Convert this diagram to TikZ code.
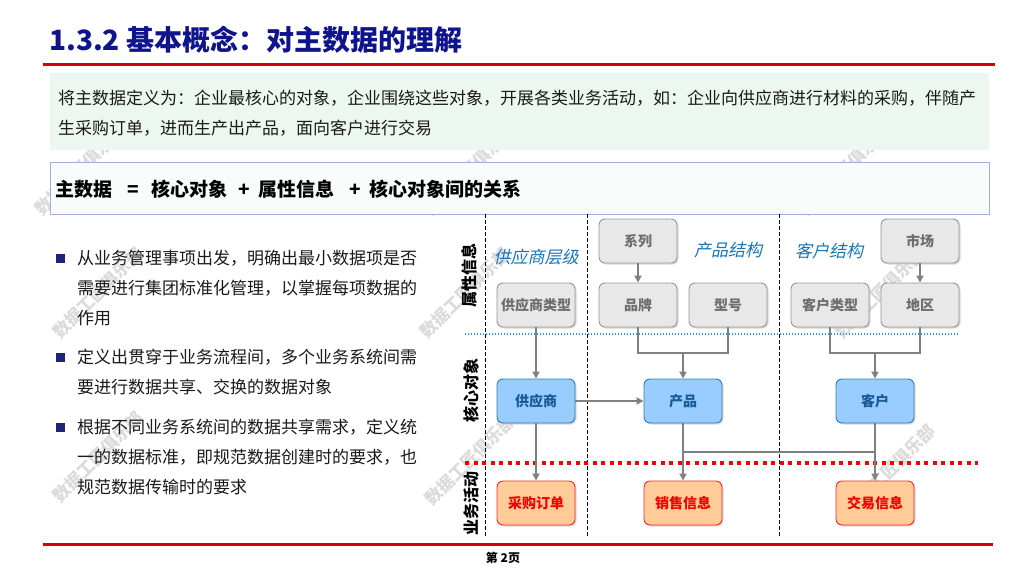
\documentclass[tikz,border=0pt]{standalone}
\usepackage{fontspec}
\setmainfont{Noto Sans CJK SC}
\newfontfamily\slantcjk[FakeSlant=0.22]{Noto Sans CJK SC}
\usetikzlibrary{arrows.meta,shadows}
\definecolor{titleblue}{RGB}{16,20,140}
\definecolor{redline}{RGB}{215,0,0}
\definecolor{greenbg}{RGB}{237,247,241}
\definecolor{formbg}{RGB}{248,252,250}
\definecolor{lavender}{RGB}{168,172,216}
\definecolor{bulletblue}{RGB}{30,36,120}
\definecolor{txt}{RGB}{26,26,26}
\definecolor{attrfill}{RGB}{232,232,232}
\definecolor{attrdraw}{RGB}{150,150,150}
\definecolor{attrtext}{RGB}{110,110,110}
\definecolor{corefill}{RGB}{153,204,255}
\definecolor{coredraw}{RGB}{46,125,181}
\definecolor{coretext}{RGB}{22,90,150}
\definecolor{actfill}{RGB}{255,204,153}
\definecolor{actdraw}{RGB}{255,40,40}
\definecolor{acttext}{RGB}{240,0,0}
\definecolor{connc}{RGB}{128,128,128}
\definecolor{slabel}{RGB}{26,117,181}
\definecolor{dotblue}{RGB}{51,153,204}
\definecolor{dashred}{RGB}{240,0,0}
\tikzset{
  boxbase/.style={rounded corners=6pt, minimum width=78pt, minimum height=44pt,
    line width=0.9pt, inner sep=0pt, font=\fontsize{14}{16}\selectfont\bfseries,
    drop shadow={shadow xshift=1.5pt, shadow yshift=-1.5pt, fill=black!25, opacity=0.6}},
  attrbox/.style={boxbase, fill=attrfill, draw=attrdraw, text=attrtext},
  corebox/.style={boxbase, fill=corefill, draw=coredraw, text=coretext},
  actbox/.style={boxbase, fill=actfill, draw=actdraw, text=acttext},
  conn/.style={draw=connc, line width=2pt, -{Triangle[length=7pt,width=7pt]}},
  joinline/.style={draw=connc, line width=2pt},
  body/.style={anchor=west, text=txt, inner sep=0pt, font=\fontsize{17}{20}\selectfont},
  sidelabel/.style={rotate=90, text=black, inner sep=0pt, font=\fontsize{16}{18}\selectfont\bfseries},
  structlabel/.style={text=slabel, inner sep=0pt, font=\fontsize{17}{20}\selectfont\slantcjk},
  lanedash/.style={draw=black, line width=0.9pt, dash pattern=on 3.5pt off 2.5pt},
  watermark/.style={rotate=45, text=black!14, inner sep=0pt, font=\fontsize{17}{20}\selectfont\bfseries},
  bulletsq/.style={fill=bulletblue, minimum size=9pt, inner sep=0pt}
}
\begin{document}
\begin{tikzpicture}[x=1pt,y=-1pt]
\useasboundingbox (0,0) rectangle (1024,576);
\fill[white] (0,0) rectangle (1024,576);

% watermarks
\node[watermark] (wm1) at (80,170) {数据工匠俱乐部};
\node[watermark] (wm2) at (470,170) {数据工匠俱乐部};
\node[watermark] (wm3) at (845,170) {数据工匠俱乐部};
\node[watermark] (wm4) at (98,293) {数据工匠俱乐部};
\node[watermark] (wm5) at (465,293) {数据工匠俱乐部};
\node[watermark] (wm6) at (880,293) {数据工匠俱乐部};
\node[watermark] (wm7) at (98,457) {数据工匠俱乐部};
\node[watermark] (wm8) at (470,460) {数据工匠俱乐部};
\node[watermark] (wm9) at (890,470) {数据工匠俱乐部};

% title
\node[anchor=west, inner sep=0pt, text=titleblue, font=\fontsize{28}{31}\selectfont\bfseries] (title) at (49,40) {1.3.2 基本概念：对主数据的理解};
\draw[redline, line width=3pt] (43,64) -- (995,64);

% definition box
\fill[greenbg] (50,73) rectangle (989,150);
\node[body] (def1) at (58,98) {将主数据定义为：企业最核心的对象，企业围绕这些对象，开展各类业务活动，如：企业向供应商进行材料的采购，伴随产};
\node[body] (def2) at (58,128) {生采购订单，进而生产出产品，面向客户进行交易};

% formula box
\draw[draw=lavender, fill=formbg, line width=1pt] (50,162) rectangle (989,214);
\node[anchor=west, inner sep=0pt, text=black, font=\fontsize{19}{22}\selectfont\bfseries] (formula) at (55,189)
  {主数据\hspace{15pt}=\hspace{13pt}核心对象\hspace{11pt}+\hspace{8pt}属性信息\hspace{15pt}+\hspace{9pt}核心对象间的关系};

% bullets
\node[bulletsq] (b1) at (60,258) {};
\node[body] (b1l1) at (77,258) {从业务管理事项出发，明确出最小数据项是否};
\node[body] (b1l2) at (77,288) {需要进行集团标准化管理，以掌握每项数据的};
\node[body] (b1l3) at (77,318) {作用};
\node[bulletsq] (b2) at (60,357) {};
\node[body] (b2l1) at (77,357) {定义出贯穿于业务流程间，多个业务系统间需};
\node[body] (b2l2) at (77,387) {要进行数据共享、交换的数据对象};
\node[bulletsq] (b3) at (60,427) {};
\node[body] (b3l1) at (77,427) {根据不同业务系统间的数据共享需求，定义统};
\node[body] (b3l2) at (77,457) {一的数据标准，即规范数据创建时的要求，也};
\node[body] (b3l3) at (77,487) {规范数据传输时的要求};

% lane lines
\draw[lanedash] (485,214) -- (485,536);
\draw[lanedash] (587,214) -- (587,536);
\draw[lanedash] (779,214) -- (779,536);
\draw[draw=dotblue, line width=1.1pt, dash pattern=on 1.2pt off 1.8pt] (465,334) -- (958,334);
\draw[draw=dashred, line width=3.6pt, dash pattern=on 4pt off 4.5pt] (465,463) -- (978,463);

% side labels
\node[sidelabel] (l1) at (469,275) {属性信息};
\node[sidelabel] (l2) at (471,390) {核心对象};
\node[sidelabel] (l3) at (471,503) {业务活动};

% structure labels
\node[structlabel] (s1) at (536,257) {供应商层级};
\node[structlabel] (s2) at (728,250) {产品结构};
\node[structlabel] (s3) at (829,251) {客户结构};

% attribute boxes
\node[attrbox] (sptype) at (536,305) {供应商类型};
\node[attrbox] (series) at (638,241) {系列};
\node[attrbox] (brand) at (638,305) {品牌};
\node[attrbox] (model) at (728,305) {型号};
\node[attrbox] (ctype) at (830,305) {客户类型};
\node[attrbox] (market) at (920,241) {市场};
\node[attrbox] (region) at (920,305) {地区};

% core objects
\node[corebox] (supplier) at (536,401) {供应商};
\node[corebox] (product) at (683,401) {产品};
\node[corebox] (customer) at (875,401) {客户};

% activities
\node[actbox] (po) at (536,503) {采购订单};
\node[actbox] (sales) at (683,503) {销售信息};
\node[actbox] (trade) at (875,503) {交易信息};

% connectors
\coordinate (pj) at (683,353);
\coordinate (cj) at (875,353);
\coordinate (hl) at (683,452);
\coordinate (hr) at (875,452);
\draw[conn] (sptype) -- (supplier);
\draw[conn] (series) -- (brand);
\draw[conn] (market) -- (region);
\draw[joinline] (brand.south) |- (pj) -| (model.south);
\draw[joinline] (ctype.south) |- (cj) -| (region.south);
\draw[conn] (pj) -- (product.north);
\draw[conn] (cj) -- (customer.north);
\draw[conn] (supplier) -- (product);
\draw[conn] (supplier) -- (po);
\draw[conn] (product) -- (sales);
\draw[conn] (customer) -- (trade);
\draw[joinline] (hl) -- (hr);

% footer
\draw[redline, line width=3pt] (43,544) -- (993,544);
\node[inner sep=0pt, text=black, font=\fontsize{12}{14}\selectfont\bfseries] (page) at (503,558) {第 2页};
\end{tikzpicture}
\end{document}
